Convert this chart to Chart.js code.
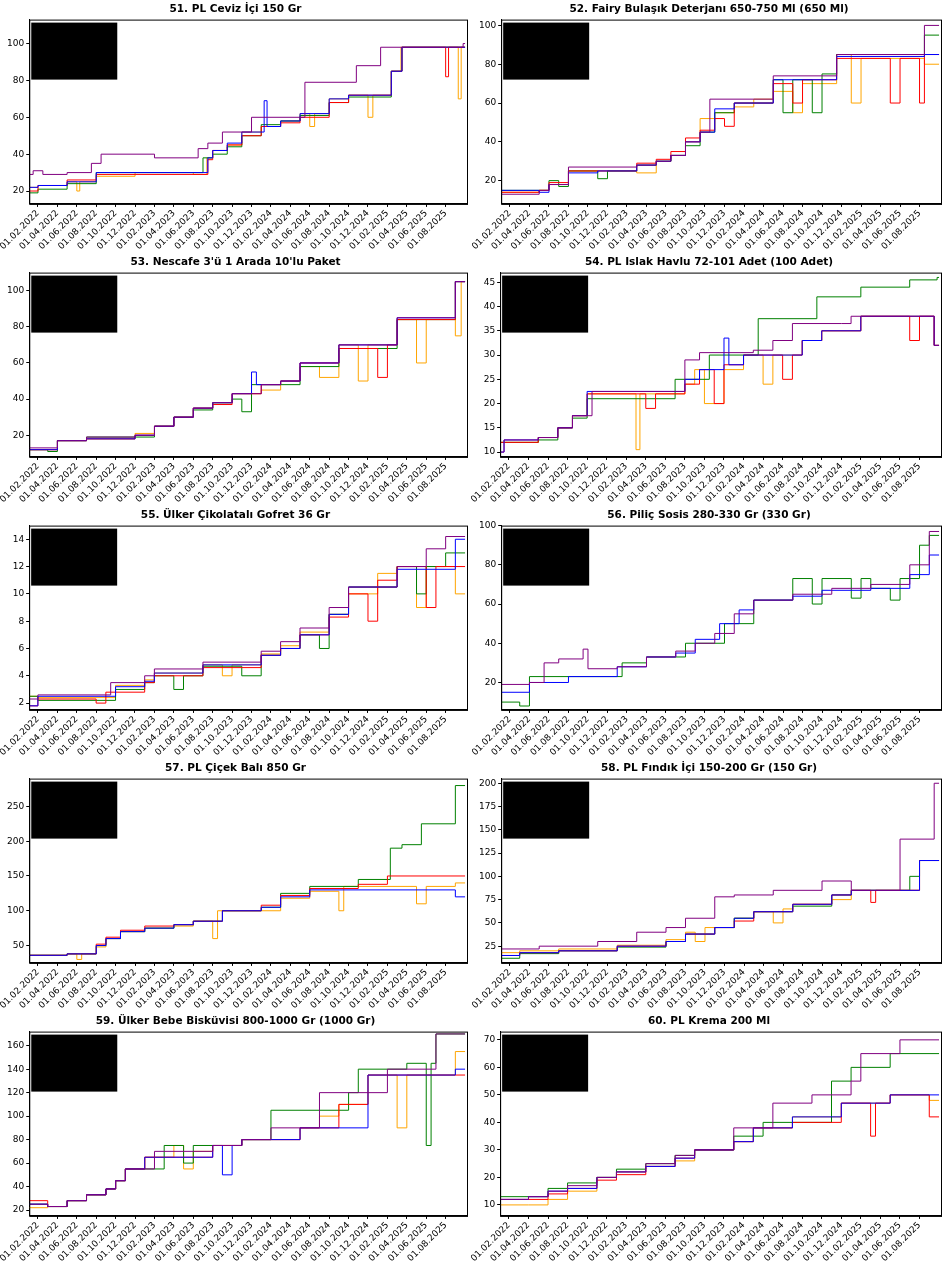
<!DOCTYPE html>
<html>
<head>
<meta charset="utf-8">
<script src="https://cdn.jsdelivr.net/npm/chart.js@4.4.1/dist/chart.umd.min.js"></script>
<style>
  body { margin: 0; background: #fff; width: 945px; height: 1265px; position: relative; overflow: hidden; }
  .panel { position: absolute; height: 253px; }
</style>
</head>
<body>
<div id="wrap"></div>
<script>
// x = months since 01.01.2022 (1 = 01.02.2022), y = price; each pair starts a new step
const titles = [
  "51. PL Ceviz İçi 150 Gr", "52. Fairy Bulaşık Deterjanı 650-750 Ml (650 Ml)",
  "53. Nescafe 3'ü 1 Arada 10'lu Paket", "54. PL Islak Havlu 72-101 Adet (100 Adet)",
  "55. Ülker Çikolatalı Gofret 36 Gr", "56. Piliç Sosis 280-330 Gr (330 Gr)",
  "57. PL Çiçek Balı 850 Gr", "58. PL Fındık İçi 150-200 Gr (150 Gr)",
  "59. Ülker Bebe Bisküvisi 800-1000 Gr (1000 Gr)", "60. PL Krema 200 Ml"
];
const yMin = [13, 8, 8, 9, 1.5, 6, 25, 7, 15, 6];
const yMax = [113, 103, 110, 47, 15, 100, 290, 205, 172, 73];
const yStep = [20, 20, 20, 5, 2, 20, 50, 25, 20, 10];
const seriesColors = ['purple', 'blue', 'red', 'green', 'orange'];

const p51 = {
  purple: [[0,29],[0.5,31],[1.5,29],[4,30],[6.5,35],[7.5,40],[13,38],[17.5,43],[18.5,46],[20,52],[23,60],[28.5,79],[33.8,88],[36.3,98],[44.8,100]],
  blue:   [[0,22],[1,23],[4,25],[7,30],[18.5,38],[19,42],[20.5,46],[22,52],[24.3,69],[24.6,55],[26,58],[28,62],[31,70],[33,72],[37.4,85],[38.5,98]],
  red:    [[0,20],[1,23],[4,26],[7,29],[18.5,37],[19,42],[20.5,45],[22,50],[24,55],[26,57],[28,60],[31,68],[33,72],[37.4,85],[38.5,98],[43,82],[43.3,98]],
  green:  [[0,19],[1,21],[4,24],[7,30],[18,38],[19,40],[20.5,44],[22,50],[24,56],[26,58],[28,61],[31,68],[33,71],[37.4,85],[38.5,98]],
  orange: [[0,22],[1,23],[4,25],[5,20],[5.3,25],[7,28],[11,30],[17,29],[18.4,38],[19,42],[20.5,45],[22,52],[24,55],[26,58],[28,62],[29,55],[29.5,62],[31,70],[33,72],[35,60],[35.5,72],[37.4,85],[38.4,98],[44.3,70],[44.6,98]]
};
const p52 = {
  purple: [[0,13],[4,15],[5,18],[7,27],[14,28],[16,30],[17.5,33],[19,40],[20.5,45],[21.5,62],[28,74],[34.5,85],[43.5,100]],
  blue:   [[0,15],[4,14],[5,18],[7,24],[10,25],[14,28],[16,30],[17.5,33],[19,40],[20.5,45],[22,57],[24,60],[28,72],[34.5,84],[43.5,85]],
  red:    [[0,14],[4,15],[5,19],[7,25],[14,29],[16,31],[17.5,35],[19,42],[20.5,46],[22,52],[23,48],[24,60],[28,70],[30,60],[31,72],[34.5,83],[40,60],[41,83],[43,60],[43.5,85]],
  green:  [[0,15],[4,15],[5,20],[6,17],[7,25],[10,21],[11,25],[14,28],[16,30],[17.5,33],[19,38],[20.5,45],[22,55],[24,60],[28,72],[29,55],[30,72],[32,55],[33,75],[34.5,85],[43.5,95]],
  orange: [[0,14],[4,15],[5,18],[7,25],[14,24],[16,30],[17.5,33],[19,40],[20.5,52],[22,55],[24,58],[26,62],[28,66],[30,55],[31,70],[34.5,85],[36,60],[37,83],[43.5,80]]
};
const p53 = {
  purple: [[0,13],[3,17],[6,19],[11,20],[13,25],[15,30],[17,35],[19,38],[21,43],[24,48],[26,50],[28,60],[32,70],[37.5,70],[38,85],[44,105]],
  blue:   [[0,12],[3,17],[6,18],[11,20],[13,25],[15,30],[17,35],[19,38],[21,43],[23,55],[23.5,48],[26,50],[28,60],[32,70],[38,85],[44,105]],
  red:    [[0,12],[3,17],[6,18],[11,20],[13,25],[15,30],[17,35],[19,37],[21,43],[24,48],[26,50],[28,60],[32,68],[36,52],[37,70],[38,84],[44,105]],
  green:  [[0,12],[2,11],[3,17],[6,19],[11,19],[13,25],[15,30],[17,34],[19,38],[21,40],[22,33],[23,48],[26,48],[28,58],[32,68],[38,84],[44,105]],
  orange: [[0,12],[3,17],[6,18],[11,21],[13,25],[15,30],[17,35],[19,38],[21,43],[24,45],[26,50],[28,58],[30,52],[32,70],[34,50],[35,70],[38,84],[40,60],[41,84],[44,75],[44.6,105]]
};
const p54 = {
  purple: [[0,10],[0.5,12.5],[4,13],[6,15],[7.5,17.5],[9.5,22.5],[19,29],[20.5,30.5],[26,31],[28,33],[30,36.5],[35,36.5],[36,38],[44.5,32]],
  blue:   [[0,10],[0.5,12.5],[4,13],[6,15],[7.5,17.5],[9,22.5],[19,25],[20.5,27],[23,33.5],[23.5,28],[25,30],[31,33],[33,35],[37,38],[44.5,32]],
  red:    [[0,12],[4,13],[6,15],[7.5,17.5],[9,22],[15,19],[16,22],[19,24],[20.5,27],[22,20],[23,28],[25,30],[29,25],[30,30],[31,33],[33,35],[37,38],[42,33],[43,38],[44.5,32]],
  green:  [[0,12],[4,12.5],[6,15],[7.5,17],[9,21],[18,25],[21.5,30],[26.5,37.5],[32.5,42],[37,44],[42,45.5],[44.8,46]],
  orange: [[0,12],[4,13],[6,15],[7.5,17.5],[9,22],[14,10.5],[14.4,22],[19,24],[20,27],[21,20],[23,27],[25,30],[27,24],[28,30],[31,33],[33,35],[37,38],[44.5,32]]
};
const p55 = {
  purple: [[0,2.3],[1,2.6],[8.5,3.5],[12,4],[13,4.5],[18,5],[24,5.8],[26,6.5],[28,7.5],[31,9],[33,10.5],[38,12],[41,13.3],[43,14.2]],
  blue:   [[0,1.8],[1,2.5],[9,3.2],[12,3.6],[13,4.2],[18,4.8],[24,5.5],[26,6],[28,7],[31,8.5],[33,10.5],[38,11.8],[44,14]],
  red:    [[0,1.8],[1,2.3],[7,2],[8,2.8],[12,3.5],[13,4],[18,4.6],[24,5.5],[26,6],[28,7],[31,8.3],[33,10],[35,8],[36,11],[38,12],[41,9],[42,12]],
  green:  [[0,2.5],[1,2.2],[9,3],[12,3.5],[13,4],[15,3],[16,4],[18,4.7],[22,4],[24,5.5],[26,6],[28,7],[30,6],[31,8.5],[33,10.5],[38,12],[40,10],[41,12],[43,13]],
  orange: [[0,2.5],[1,2.4],[9,3.3],[12,3.7],[13,4.2],[18,4.8],[20,4],[21,4.8],[24,5.6],[26,6.2],[28,7.2],[31,8.5],[33,10],[36,11.5],[38,12],[40,9],[41,12],[44,10]]
};
const p56 = {
  purple: [[0,19],[3,20],[4.5,30],[6,32],[8.5,37],[9,27],[12,28],[15,33],[18,36],[20,40],[22,45],[24,55],[26,62],[30,65],[34,68],[38,70],[42,80],[44,97]],
  blue:   [[0,15],[3,20],[7,23],[12,28],[15,33],[18,35],[20,42],[22.5,50],[24.5,57],[26,62],[30,64],[33,67],[38,68],[42,75],[44,85]],
  red:    [],
  green:  [[0,10],[2,8],[3,23],[12.5,30],[15,33],[19,40],[23,50],[26,62],[30,73],[32,60],[33,73],[36,63],[37,73],[38,68],[40,62],[41,73],[43,90],[44,95]],
  orange: []
};
const p57 = {
  purple: [],
  blue:   [[0,36],[4,38],[7,50],[8,60],[9.5,70],[12,75],[15,80],[17,85],[20,100],[24,105],[26,120],[29,130],[44,120]],
  red:    [[0,36],[4,38],[7,52],[8,62],[9.5,72],[12,78],[15,80],[17,85],[20,100],[24,108],[26,122],[29,132],[34,138],[37,150]],
  green:  [[0,36],[4,38],[7,50],[8,60],[9.5,70],[12,75],[15,80],[17,85],[20,100],[24,105],[26,125],[29,135],[34,145],[37.3,190],[38.5,195],[40.5,225],[44,280]],
  orange: [[0,36],[4,38],[5,30],[5.5,38],[7,48],[8,60],[9.5,70],[12,75],[15,78],[17,85],[19,60],[19.5,100],[24,100],[26,118],[29,128],[32,100],[32.5,135],[40,110],[41,135],[44,140]]
};
const p58 = {
  purple: [[0,22],[4,25],[10,30],[14,40],[17,45],[19,55],[22,78],[24,80],[28,85],[33,95],[36,85],[41,140],[44.5,200]],
  blue:   [[0,15],[2,18],[6,20],[12,25],[17,30],[19,38],[22,45],[24,55],[26,62],[30,70],[34,80],[36,85],[43,117]],
  red:    [[0,15],[2,18],[6,20],[12,25],[17,30],[19,38],[22,45],[24,52],[26,62],[30,70],[34,80],[36,85],[38,72],[38.5,85],[43,117]],
  green:  [[0,12],[2,17],[6,20],[12,24],[17,30],[19,38],[22,45],[24,55],[26,62],[30,68],[34,80],[36,85],[42,100],[43,117]],
  orange: [[0,18],[2,20],[6,22],[12,26],[17,32],[19,40],[20,30],[21,45],[24,55],[26,62],[28,50],[29,65],[30,70],[34,75],[36,85],[43,117]]
};
const p59 = {
  purple: [[0,25],[2,23],[4,28],[6,33],[8,38],[9,45],[10,55],[13,70],[19,75],[22,80],[25,90],[30,120],[37,140],[42,170]],
  blue:   [[0,25],[2,23],[4,28],[6,33],[8,38],[9,45],[10,55],[12,65],[19,75],[20,50],[21,75],[22,80],[28,90],[35,135],[44,140]],
  red:    [[0,28],[2,23],[4,28],[6,33],[8,38],[9,45],[10,55],[12,65],[19,75],[22,80],[28,90],[32,110],[35,135],[44,135]],
  green:  [[0,25],[2,23],[4,28],[6,33],[8,38],[9,45],[10,55],[14,75],[16,60],[17,75],[22,80],[25,105],[33,120],[34,140],[39,145],[41,75],[41.5,145],[42,170]],
  orange: [[0,22],[2,23],[4,28],[6,33],[8,38],[9,45],[10,55],[12,65],[15,75],[16,55],[17,70],[19,75],[22,80],[28,90],[30,100],[32,110],[35,135],[38,90],[39,135],[44,155]]
};
const p60 = {
  purple: [[0,12],[3,13],[5,15],[7,17],[10,20],[12,22],[15,25],[18,28],[20,30],[24,38],[28,47],[32,50],[36,55],[37,65],[41,70]],
  blue:   [[0,12],[3,13],[5,15],[7,16],[10,20],[12,22],[15,24],[18,27],[20,30],[24,33],[26,38],[30,42],[35,47],[40,50]],
  red:    [[0,12],[3,12],[5,14],[7,16],[10,19],[12,21],[15,24],[18,27],[20,30],[24,33],[26,38],[30,40],[35,47],[38,35],[38.5,47],[40,50],[44,42]],
  green:  [[0,13],[3,13],[5,16],[7,18],[10,20],[12,23],[15,25],[18,28],[20,30],[24,35],[27,40],[34,55],[36,60],[40,65]],
  orange: [[0,10],[3,10],[5,12],[7,15],[10,20],[12,22],[15,24],[18,26],[20,30],[24,33],[26,38],[30,42],[35,47],[40,50],[44,48]]
};
const panels = [p51, p52, p53, p54, p55, p56, p57, p58, p59, p60];
const tickMonths = [1,3,5,7,9,11,13,15,17,19,21,23,25,27,29,31,33,35,37,39,41,43];

function monthLabel(m) {
  const y = 2022 + Math.floor(m / 12);
  const mm = (m % 12) + 1;
  return '01.' + String(mm).padStart(2, '0') + '.' + y;
}

// box around plot + redacted legend block
const frame = {
  id: 'frame',
  afterDraw(chart) {
    const a = chart.chartArea, ctx = chart.ctx;
    ctx.save();
    ctx.fillStyle = '#000';
    ctx.fillRect(a.left + 2, a.top + 3, 86, 57);
    ctx.strokeStyle = '#000';
    ctx.lineWidth = 1;
    ctx.strokeRect(a.left + 0.5, a.top + 0.5, a.right - a.left, a.bottom - a.top);
    ctx.restore();
  }
};

const wrap = document.getElementById('wrap');
panels.forEach((p, i) => {
  const col = i % 2, row = Math.floor(i / 2);
  const div = document.createElement('div');
  div.className = 'panel';
  div.style.left = (col === 0 ? 0 : 471) + 'px';
  div.style.top = (row * 253) + 'px';
  div.style.width = (col === 0 ? 472 : 474) + 'px';
  const cv = document.createElement('canvas');
  div.appendChild(cv);
  wrap.appendChild(div);

  const datasets = seriesColors.map(c => {
    const pts = p[c].map(d => ({ x: d[0], y: d[1] }));
    if (pts.length) pts.push({ x: 45, y: pts[pts.length - 1].y });
    return { data: pts, borderColor: c, borderWidth: 1, pointRadius: 0, stepped: 'before', fill: false };
  });

  new Chart(cv, {
    type: 'line',
    data: { datasets },
    plugins: [frame],
    options: {
      responsive: true,
      maintainAspectRatio: false,
      animation: false,
      layout: { padding: { right: col === 0 ? 5 : 4, top: 0, left: col === 0 ? 4 : 6 } },
      plugins: {
        legend: { display: false },
        tooltip: { enabled: false },
        title: { display: true, text: titles[i], color: '#000', font: { size: 10.5, weight: 'bold', family: 'DejaVu Sans' }, padding: { top: 3, bottom: 4 } }
      },
      scales: {
        x: {
          type: 'linear', min: 0.1, max: 45.2,
          afterBuildTicks: ax => { ax.ticks = tickMonths.map(v => ({ value: v })); },
          ticks: { callback: v => monthLabel(v), minRotation: 45, maxRotation: 45, autoSkip: false, color: '#000', font: { size: 9, family: 'DejaVu Sans' }, padding: 1 },
          grid: { drawOnChartArea: false, drawTicks: true, tickLength: 3, color: '#000' },
          border: { color: '#000' }
        },
        y: {
          min: yMin[i], max: yMax[i],
          afterBuildTicks: ax => {
            const s = yStep[i], t = [];
            for (let v = Math.ceil(yMin[i] / s) * s; v <= yMax[i]; v += s) t.push({ value: v });
            ax.ticks = t;
          },
          ticks: { color: '#000', font: { size: 9, family: 'DejaVu Sans' }, padding: 2 },
          grid: { drawOnChartArea: false, drawTicks: true, tickLength: 3, color: '#000' },
          border: { color: '#000' }
        }
      }
    }
  });
});
</script>
</body>
</html>
